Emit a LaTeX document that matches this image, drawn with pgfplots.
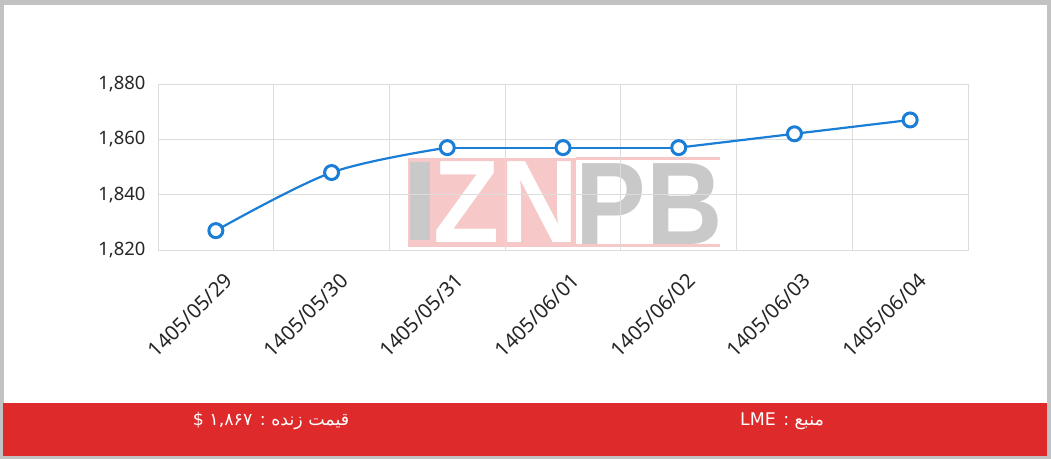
\documentclass[border=0pt]{standalone}
\usepackage{fontspec}
\setmainfont{Noto Sans}
\newfontfamily\arabicfont[Script=Arabic]{DejaVu Sans}
\newfontfamily\wmfont{Liberation Sans}
\TeXXeTstate=1
\usepackage{pgfplots}
\pgfplotsset{compat=1.18}
\definecolor{lineblue}{HTML}{1A7ED6}
\definecolor{gridgray}{HTML}{DCDCDC}
\definecolor{barred}{HTML}{DE2A2B}
\definecolor{wmpink}{HTML}{F6C8C8}
\definecolor{wmgray}{HTML}{C9C9C9}
\definecolor{framegray}{HTML}{C2C2C2}
\begin{document}
\begin{tikzpicture}[x=1bp,y=1bp]
\useasboundingbox (0,0) rectangle (1051,459);
% frame
\fill[framegray] (0,0) rectangle (1051,459);
\fill[white] (4,3) rectangle (1047,454);
% watermark
\fill[wmpink] (408,212) rectangle (576,301);
\fill[wmpink] (576,212) rectangle (720,215);
\fill[wmpink] (576,299) rectangle (720,302);
\fill[wmgray] (410,219) rectangle (430,297);
\node[anchor=base, inner sep=0, text=white, xscale=0.92, font=\wmfont\bfseries\fontsize{118}{118}\selectfont] at (506,216) {ZN};
\node[anchor=base, inner sep=0, text=wmgray, xscale=0.9, font=\wmfont\bfseries\fontsize{118}{118}\selectfont] at (649,214) {PB};
\begin{axis}[
  at={(158bp,209bp)}, anchor=south west,
  scale only axis, width=810bp, height=166bp,
  xmin=-0.5, xmax=6.5, ymin=1820, ymax=1880,
  ytick={1820,1840,1860,1880},
  xtick={0,1,2,3,4,5,6},
  xticklabels={1405/05/29,1405/05/30,1405/05/31,1405/06/01,1405/06/02,1405/06/03,1405/06/04},
  minor xtick={-0.5,0.5,1.5,2.5,3.5,4.5,5.5,6.5},
  xminorgrids, ymajorgrids,
  minor grid style={gridgray, line width=0.8bp},
  major grid style={gridgray, line width=0.8bp},
  axis line style={gridgray, line width=0.8bp},
  major tick length=0pt, minor tick length=0pt,
  /pgf/number format/assume math mode=true,
  /pgf/number format/1000 sep={,},
  yticklabel style={font=\fontsize{18.5}{20}\selectfont, text=black!85, xshift=-9bp},
  xticklabel style={font=\fontsize{20.5}{22}\selectfont, text=black!85, rotate=45, anchor=east, inner sep=0pt, xshift=-10bp, yshift=-28bp},
  clip=false,
]
\addplot[lineblue, line width=2.2bp, smooth, tension=0.55] coordinates {(0,1827) (1,1848) (2,1857)};
\addplot[lineblue, line width=2.2bp] coordinates {(2,1857) (3,1857) (4,1857)};
\addplot[lineblue, line width=2.2bp, smooth, tension=0.55] coordinates {(4,1857) (5,1862) (6,1867)};
\addplot[only marks, mark=*, mark size=7bp, mark options={fill=white, draw=lineblue, line width=3bp}] coordinates {(0,1827) (1,1848) (2,1857) (3,1857) (4,1857) (5,1862) (6,1867)};
\end{axis}
% bottom bar
\fill[barred] (3,3) rectangle (1047,56);
\node[text=white, font=\arabicfont\fontsize{17.5}{20}\selectfont] at (271,38) {\beginR قیمت زنده : \beginL۱,۸۶۷\endL{} \$\endR};
\node[text=white, font=\arabicfont\fontsize{17.5}{20}\selectfont] at (782,38) {\beginR منبع : \beginL LME\endL\endR};
\end{tikzpicture}
\end{document}
